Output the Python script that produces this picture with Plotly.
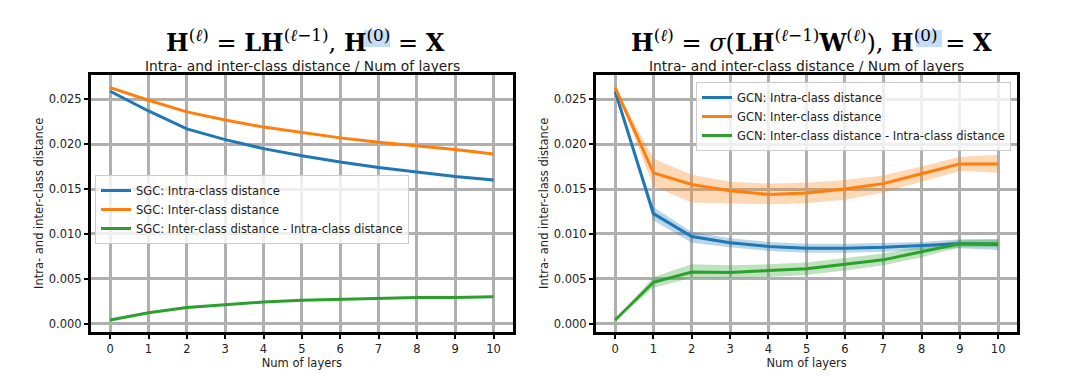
import plotly.graph_objects as go

layers = list(range(11))

# SGC (left)
sgc_intra = [0.0259, 0.0237, 0.0217, 0.0205, 0.0195, 0.0187, 0.0180, 0.0174, 0.0169, 0.0164, 0.0160]
sgc_inter = [0.0263, 0.0249, 0.0236, 0.0227, 0.0219, 0.0213, 0.0207, 0.0202, 0.0198, 0.0194, 0.0189]
sgc_diff = [0.0004, 0.0012, 0.0018, 0.0021, 0.0024, 0.0026, 0.0027, 0.0028, 0.0029, 0.0029, 0.0030]

# GCN (right) mean and band
gcn_intra = [0.0259, 0.01225, 0.0097, 0.0090, 0.0086, 0.0084, 0.0084, 0.0085, 0.0087, 0.0089, 0.0088]
gcn_intra_hi = [0.0259, 0.0130, 0.0102, 0.0095, 0.0091, 0.0089, 0.0089, 0.0090, 0.0091, 0.0094, 0.0094]
gcn_intra_lo = [0.0259, 0.0115, 0.0090, 0.0085, 0.0081, 0.0079, 0.0079, 0.0080, 0.0082, 0.0084, 0.0082]
gcn_inter = [0.0263, 0.0168, 0.0155, 0.0148, 0.0144, 0.01455, 0.0150, 0.0156, 0.0167, 0.0178, 0.0178]
gcn_inter_hi = [0.0263, 0.0184, 0.0166, 0.0158, 0.0156, 0.0157, 0.0160, 0.0165, 0.0175, 0.0186, 0.0188]
gcn_inter_lo = [0.0263, 0.0153, 0.0135, 0.0134, 0.0133, 0.0134, 0.0138, 0.0146, 0.0158, 0.0170, 0.0168]
gcn_diff = [0.0004, 0.0046, 0.00575, 0.0057, 0.0059, 0.0061, 0.0066, 0.0071, 0.0080, 0.0089, 0.0089]
gcn_diff_hi = [0.0004, 0.0052, 0.0066, 0.0065, 0.0066, 0.0068, 0.0073, 0.0078, 0.0086, 0.0093, 0.0094]
gcn_diff_lo = [0.0004, 0.0040, 0.0051, 0.0051, 0.0052, 0.0054, 0.0059, 0.0065, 0.0074, 0.0085, 0.0085]

x_ticks = list(range(11))
y_ticks = [0.0, 0.005, 0.010, 0.015, 0.020, 0.025]
y_tick_labels = ["0.000", "0.005", "0.010", "0.015", "0.020", "0.025"]

BLUE, ORANGE, GREEN = "#1f77b4", "#ff7f0e", "#2ca02c"
BLUE_A, ORANGE_A, GREEN_A = "rgba(31,119,180,0.3)", "rgba(255,127,14,0.3)", "rgba(44,160,44,0.3)"

fig = go.Figure()

# page body has an 8px margin; figure sized to fit the window
OFF = 8
W, H = 1080 - OFF, 377 - OFF
def px_x(v): return (v - OFF) / W
def px_y(v): return 1 - (v - OFF) / H

# left series
for name, ys, col in [("SGC: Intra-class distance", sgc_intra, BLUE),
                      ("SGC: Inter-class distance", sgc_inter, ORANGE),
                      ("SGC: Inter-class distance - Intra-class distance", sgc_diff, GREEN)]:
    fig.add_trace(go.Scatter(x=layers, y=ys, mode="lines", name=name,
                             line=dict(color=col, width=3), xaxis="x", yaxis="y", legend="legend"))

# right bands
for hi, lo, col in [(gcn_intra_hi, gcn_intra_lo, BLUE_A),
                    (gcn_inter_hi, gcn_inter_lo, ORANGE_A),
                    (gcn_diff_hi, gcn_diff_lo, GREEN_A)]:
    fig.add_trace(go.Scatter(x=layers + layers[::-1], y=hi + lo[::-1], mode="lines",
                             fill="toself", fillcolor=col, line=dict(width=0, color=col),
                             showlegend=False, hoverinfo="skip", xaxis="x2", yaxis="y2"))

for name, ys, col in [("GCN: Intra-class distance", gcn_intra, BLUE),
                      ("GCN: Inter-class distance", gcn_inter, ORANGE),
                      ("GCN: Inter-class distance - Intra-class distance", gcn_diff, GREEN)]:
    fig.add_trace(go.Scatter(x=layers, y=ys, mode="lines", name=name,
                             line=dict(color=col, width=3), xaxis="x2", yaxis="y2", legend="legend2"))

FS = 11.5
txt_font = dict(family="DejaVu Sans, sans-serif", size=FS, color="#222")
ydom = [px_y(331.7), px_y(75)]
common_x = dict(range=[-0.5, 10.5], tickmode="array", tickvals=x_ticks, ticks="outside",
                ticklen=4, tickwidth=1.5, tickcolor="black", showgrid=True, gridcolor="#b0b0b0",
                gridwidth=3, showline=True, linecolor="black", linewidth=3, mirror=True,
                zeroline=False, tickfont=txt_font, automargin=False,
                title=dict(text="Num of layers", font=txt_font, standoff=5))
common_y = dict(range=[-0.00091, 0.02771], tickmode="array", tickvals=y_ticks, ticktext=y_tick_labels,
                ticks="outside", ticklen=4, tickwidth=1.5, tickcolor="black", showgrid=True,
                gridcolor="#b0b0b0", gridwidth=3, showline=True, linecolor="black", linewidth=3,
                mirror=True, zeroline=False, tickfont=txt_font, automargin=False,
                title=dict(text="Intra- and inter-class distance", font=txt_font, standoff=3))

legend_common = dict(bgcolor="rgba(255,255,255,0.8)", bordercolor="#cccccc", borderwidth=1,
                     font=txt_font, xanchor="left", yanchor="top", tracegroupgap=0, itemwidth=30)

fig.update_layout(
    width=W, height=H, margin=dict(l=0, r=0, t=0, b=0),
    paper_bgcolor="white", plot_bgcolor="white",
    xaxis=dict(domain=[px_x(91), px_x(512.7)], anchor="y", **common_x),
    yaxis=dict(domain=ydom, anchor="x", **common_y),
    xaxis2=dict(domain=[px_x(596), px_x(1017.3)], anchor="y2", **common_x),
    yaxis2=dict(domain=ydom, anchor="x2", **common_y),
    legend=dict(x=px_x(95), y=px_y(175), **legend_common),
    legend2=dict(x=px_x(696), y=px_y(82), **legend_common),
)

# light highlight boxes behind "(0)" in the titles
for x0, x1 in [(364, 390), (916, 942)]:
    fig.add_shape(type="rect", xref="paper", yref="paper", layer="below",
                  x0=px_x(x0), x1=px_x(x1), y0=px_y(47), y1=px_y(30),
                  fillcolor="rgba(185,212,245,0.8)", line=dict(width=0))

title_font = dict(family="DejaVu Serif, serif", size=24, color="black")
sub_font = dict(family="DejaVu Sans, sans-serif", size=13.8, color="#222")
fig.add_annotation(x=px_x(305.5), y=px_y(41), xref="paper", yref="paper", showarrow=False,
                   xanchor="center", yanchor="middle",
                   text="<b>H</b><sup>(<i>ℓ</i>)</sup> = <b>LH</b><sup>(<i>ℓ</i>−1)</sup>, <b>H</b><sup>(0)</sup> = <b>X</b>",
                   font=title_font)
fig.add_annotation(x=px_x(302), y=px_y(66), xref="paper", yref="paper", showarrow=False,
                   xanchor="center", yanchor="middle",
                   text="Intra- and inter-class distance / Num of layers", font=sub_font)
fig.add_annotation(x=px_x(811), y=px_y(41), xref="paper", yref="paper", showarrow=False,
                   xanchor="center", yanchor="middle",
                   text="<b>H</b><sup>(<i>ℓ</i>)</sup> = <i>σ</i>(<b>LH</b><sup>(<i>ℓ</i>−1)</sup><b>W</b><sup>(<i>ℓ</i>)</sup>), <b>H</b><sup>(0)</sup> = <b>X</b>",
                   font=title_font)
fig.add_annotation(x=px_x(806.5), y=px_y(66), xref="paper", yref="paper", showarrow=False,
                   xanchor="center", yanchor="middle",
                   text="Intra- and inter-class distance / Num of layers", font=sub_font)

fig.write_html("out.html")
